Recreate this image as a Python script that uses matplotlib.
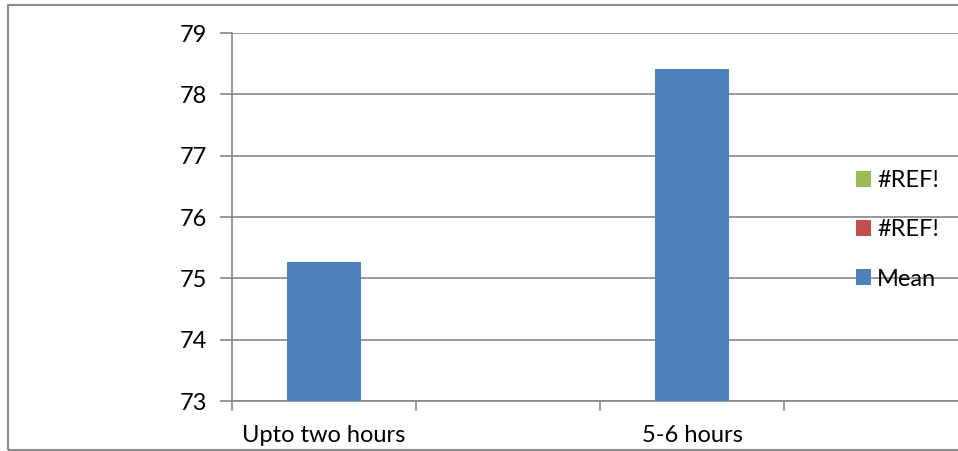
import matplotlib.pyplot as plt
from matplotlib.patches import Patch, Rectangle

# category slots on the x axis (only every other one carries a label)
categories = ["Upto two hours", "", "5-6 hours", ""]
mean_values = [75.27, None, 78.42, None]
series_names = ["#REF!", "#REF!", "Mean"]
series_colors = ["#9BBB59", "#C0504D", "#4F81BD"]
y_ticks = [73, 74, 75, 76, 77, 78, 79]

plt.rcParams['font.family'] = ['Lato', 'DejaVu Sans']
FS = 17

W, H = 958, 451
fig = plt.figure(figsize=(W / 100, H / 100), dpi=100)

# outer chart border
fig.patches.append(Rectangle((8 / W, 1 - 450 / H), 1.2, (450 - 5) / H,
                             transform=fig.transFigure, fill=False,
                             edgecolor="#8c8c8c", linewidth=1.5))

ax = fig.add_axes([232 / W, 1 - 401 / H, (968 - 232) / W, (401 - 33) / H])

xs = [i for i, v in enumerate(mean_values) if v is not None]
vals = [v for v in mean_values if v is not None]
ax.bar(xs, [v - 73 for v in vals], bottom=73, width=0.4,
       color=series_colors[2], zorder=3)

ax.set_xlim(-0.5, 3.5)
ax.set_ylim(73, 79)
ax.set_yticks(y_ticks)
ax.set_yticklabels([str(t) for t in y_ticks])
ax.set_xticks([0, 2], [categories[0], categories[2]])
ax.set_xticks([-0.5, 0.5, 1.5, 2.5, 3.5], minor=True)
ax.tick_params(axis='x', which='major', length=0, pad=17, labelsize=FS)
ax.tick_params(axis='x', which='minor', length=7, color="#868686", width=1.2)
ax.tick_params(axis='y', length=9, color="#868686", width=1.2, pad=9,
               labelsize=FS)

ax.grid(axis='y', color="#868686", linewidth=1.2, zorder=0)
for s in ["top", "right"]:
    ax.spines[s].set_visible(False)
for s in ["left", "bottom"]:
    ax.spines[s].set_color("#868686")
    ax.spines[s].set_linewidth(1.2)

handles = [Patch(facecolor=c, edgecolor='none') for c in series_colors]
fig.legend(handles, series_names, loc='upper left',
           bbox_to_anchor=(856 / W, 1 - 170 / H), frameon=False,
           fontsize=FS, handlelength=0.65, handleheight=0.65,
           handletextpad=0.25, labelspacing=1.2, borderpad=0,
           borderaxespad=0)

fig.savefig("out.png", dpi=100)
